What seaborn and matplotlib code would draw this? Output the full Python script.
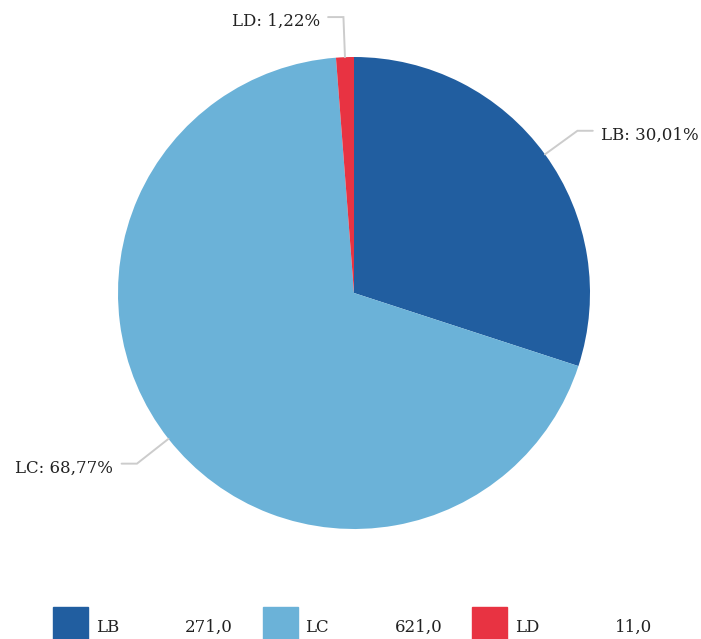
import numpy as np
import matplotlib
matplotlib.use("Agg")
import matplotlib.pyplot as plt
import seaborn as sns

labels = ["LB", "LC", "LD"]
values = [271.0, 621.0, 11.0]
pct_labels = ["30,01%", "68,77%", "1,22%"]
value_labels = ["271,0", "621,0", "11,0"]
colors = ["#215ea0", "#6bb2d8", "#e83342"]

sns.set_theme(style="white")
plt.rcParams["font.family"] = ["DejaVu Serif"]

W, H = 701, 639
fig = plt.figure(figsize=(W / 100, H / 100), dpi=100)
R = 236
cx, cy = 354, 293
ax = fig.add_axes([(cx - R) / W, (H - cy - R) / H, 2 * R / W, 2 * R / H])

wedges, _ = ax.pie(values, colors=sns.color_palette(colors), startangle=90, counterclock=False,
                   wedgeprops=dict(linewidth=0))
ax.set_xlim(-1, 1)
ax.set_ylim(-1, 1)
ax.set_aspect("equal")
ax.axis("off")

# leader lines and labels
for w, lab, pct in zip(wedges, labels, pct_labels):
    ang = np.deg2rad((w.theta1 + w.theta2) / 2)
    c, s = np.cos(ang), np.sin(ang)
    side = 1 if c > 0 else -1
    ex, ey = 1.17 * c, 1.17 * s
    hx = ex + side * 0.065
    ax.plot([c, ex, hx], [s, ey, ey], color="#cccccc", lw=1.4, clip_on=False,
            solid_joinstyle="miter")
    ax.text(hx + side * 0.035, ey - 0.02, f"{lab}: {pct}", ha="left" if side > 0 else "right",
            va="center", fontsize=12, color="#222222", clip_on=False)

# bottom legend
for i, (lab, val, col) in enumerate(zip(labels, value_labels, colors)):
    x0 = 53 + i * 209.5
    fig.patches.append(plt.Rectangle((x0 / W, 0), 35 / W, 32 / H, transform=fig.transFigure,
                                     color=col, figure=fig))
    fig.text((x0 + 43) / W, 12 / H, lab, ha="left", va="center", fontsize=12, color="#222222")
    fig.text((x0 + 180) / W, 12 / H, val, ha="right", va="center", fontsize=12, color="#222222")

fig.savefig("out.png", dpi=100, facecolor="white")
